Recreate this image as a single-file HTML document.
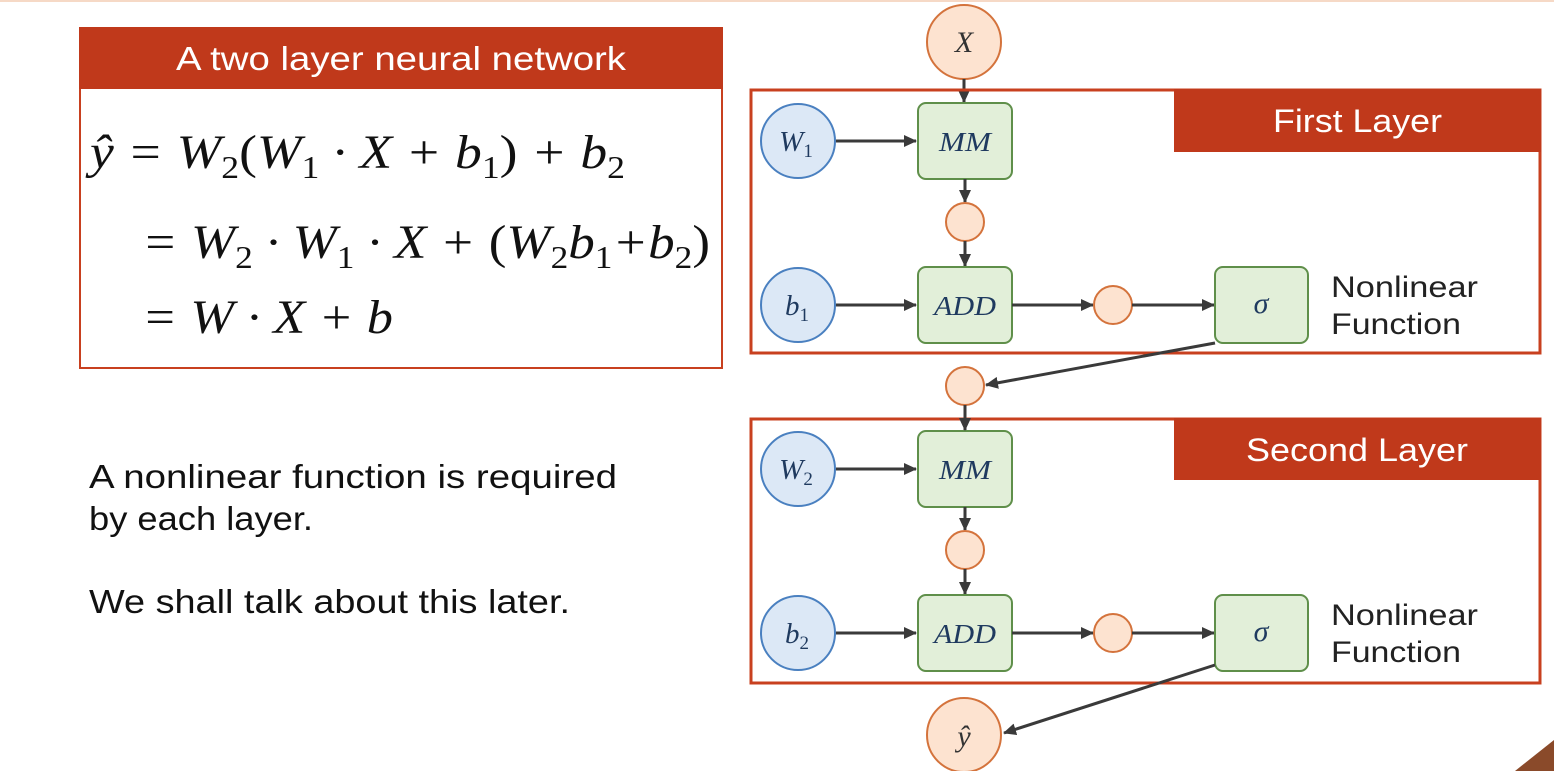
<!DOCTYPE html>
<html><head><meta charset="utf-8"><style>
html,body{margin:0;padding:0;background:#fff;width:1554px;height:771px;overflow:hidden}
svg{display:block}
.s{font-family:"Liberation Sans",sans-serif}
.m{font-family:"Liberation Serif",serif;font-style:italic}
</style></head><body>
<svg width="1554" height="771" viewBox="0 0 1554 771" xmlns="http://www.w3.org/2000/svg">
<defs>
<marker id="a" markerWidth="13" markerHeight="12" refX="12" refY="6" orient="auto" markerUnits="userSpaceOnUse"><path d="M0,0 L13,6 L0,12 z" fill="#3a3a3a"/></marker>
</defs>
<rect x="0" y="0" width="1554" height="2" fill="#f6d9c6"/>
<!-- left box -->
<rect x="80" y="28" width="642" height="340" fill="#fff" stroke="#c8401f" stroke-width="2"/>
<rect x="79" y="27" width="644" height="62" fill="#c0391b"/>
<text x="176" y="70" class="s" font-size="33" fill="#fff" textLength="450" lengthAdjust="spacingAndGlyphs">A two layer neural network</text>
<g class="m" font-size="48" fill="#111">
<text x="90" y="168" textLength="535" lengthAdjust="spacingAndGlyphs">ŷ = W<tspan font-size="32" font-style="normal" dy="10">2</tspan><tspan dy="-10" font-style="normal">(</tspan><tspan>W</tspan><tspan font-size="32" font-style="normal" dy="10">1</tspan><tspan dy="-10"> · X + b</tspan><tspan font-size="32" font-style="normal" dy="10">1</tspan><tspan dy="-10" font-style="normal">)</tspan><tspan> + b</tspan><tspan font-size="32" font-style="normal" dy="10">2</tspan></text>
<text x="142" y="258" textLength="568" lengthAdjust="spacingAndGlyphs">= W<tspan font-size="32" font-style="normal" dy="10">2</tspan><tspan dy="-10"> · W</tspan><tspan font-size="32" font-style="normal" dy="10">1</tspan><tspan dy="-10"> · X + </tspan><tspan font-style="normal">(</tspan><tspan>W</tspan><tspan font-size="32" font-style="normal" dy="10">2</tspan><tspan dy="-10">b</tspan><tspan font-size="32" font-style="normal" dy="10">1</tspan><tspan dy="-10">+b</tspan><tspan font-size="32" font-style="normal" dy="10">2</tspan><tspan dy="-10" font-style="normal">)</tspan></text>
<text x="142" y="333" textLength="251" lengthAdjust="spacingAndGlyphs">= W · X + b</text>
</g>
<g class="s" font-size="33" fill="#111">
<text x="89" y="488" textLength="528" lengthAdjust="spacingAndGlyphs">A nonlinear function is required</text>
<text x="89" y="530" textLength="224" lengthAdjust="spacingAndGlyphs">by each layer.</text>
<text x="89" y="613" textLength="481" lengthAdjust="spacingAndGlyphs">We shall talk about this later.</text>
</g>

<!-- X -->
<circle cx="964" cy="42" r="37" fill="#fde3d0" stroke="#d4733c" stroke-width="2"/>
<text x="964" y="52" text-anchor="middle" class="m" font-size="30" fill="#333">X</text>
<line x1="964" y1="79" x2="964" y2="102" stroke="#3a3a3a" stroke-width="3" marker-end="url(#a)"/>

<rect x="751" y="90" width="789" height="263" fill="none" stroke="#c8401f" stroke-width="3"/>
<rect x="1174" y="89" width="367" height="63" fill="#c0391b"/>
<text x="1273" y="132" class="s" font-size="32" fill="#fff" textLength="169" lengthAdjust="spacingAndGlyphs">First Layer</text>
<rect x="751" y="419" width="789" height="264" fill="none" stroke="#c8401f" stroke-width="3"/>
<rect x="1174" y="418" width="367" height="62" fill="#c0391b"/>
<text x="1246" y="461" class="s" font-size="32" fill="#fff" textLength="222" lengthAdjust="spacingAndGlyphs">Second Layer</text>

<g id="layer">
<circle cx="798" cy="141" r="37" fill="#dce8f6" stroke="#4a80c0" stroke-width="2"/>
<rect x="918" y="103" width="94" height="76" rx="8" fill="#e2efd9" stroke="#5f8f4a" stroke-width="2"/>
<text x="965" y="151" text-anchor="middle" class="m" font-size="27" fill="#1f3a5f" textLength="52" lengthAdjust="spacingAndGlyphs">MM</text>
<line x1="836" y1="141" x2="916" y2="141" stroke="#3a3a3a" stroke-width="3" marker-end="url(#a)"/>
<line x1="965" y1="179" x2="965" y2="202" stroke="#3a3a3a" stroke-width="3" marker-end="url(#a)"/>
<circle cx="965" cy="222" r="19" fill="#fde3d0" stroke="#d4733c" stroke-width="2"/>
<line x1="965" y1="241" x2="965" y2="266" stroke="#3a3a3a" stroke-width="3" marker-end="url(#a)"/>
<circle cx="798" cy="305" r="37" fill="#dce8f6" stroke="#4a80c0" stroke-width="2"/>
<rect x="918" y="267" width="94" height="76" rx="8" fill="#e2efd9" stroke="#5f8f4a" stroke-width="2"/>
<text x="965" y="315" text-anchor="middle" class="m" font-size="27" fill="#1f3a5f" textLength="62" lengthAdjust="spacingAndGlyphs">ADD</text>
<line x1="836" y1="305" x2="916" y2="305" stroke="#3a3a3a" stroke-width="3" marker-end="url(#a)"/>
<line x1="1012" y1="305" x2="1093" y2="305" stroke="#3a3a3a" stroke-width="3" marker-end="url(#a)"/>
<circle cx="1113" cy="305" r="19" fill="#fde3d0" stroke="#d4733c" stroke-width="2"/>
<line x1="1132" y1="305" x2="1214" y2="305" stroke="#3a3a3a" stroke-width="3" marker-end="url(#a)"/>
<rect x="1215" y="267" width="93" height="76" rx="8" fill="#e2efd9" stroke="#5f8f4a" stroke-width="2"/>
<text x="1261" y="313" text-anchor="middle" class="m" font-size="30" fill="#1f3a5f">σ</text>
<text x="1331" y="297" class="s" font-size="30" fill="#222" textLength="147" lengthAdjust="spacingAndGlyphs">Nonlinear</text>
<text x="1331" y="334" class="s" font-size="30" fill="#222" textLength="130" lengthAdjust="spacingAndGlyphs">Function</text>
</g>
<text x="796" y="151" class="m" font-size="29" fill="#1f3a5f" text-anchor="middle">W<tspan font-size="19" font-style="normal" dy="6">1</tspan></text>
<text x="797" y="315" class="m" font-size="29" fill="#1f3a5f" text-anchor="middle">b<tspan font-size="19" font-style="normal" dy="6">1</tspan></text>

<g transform="translate(0,328)">
<use href="#layer"/>
</g>
<text x="796" y="479" class="m" font-size="29" fill="#1f3a5f" text-anchor="middle">W<tspan font-size="19" font-style="normal" dy="6">2</tspan></text>
<text x="797" y="643" class="m" font-size="29" fill="#1f3a5f" text-anchor="middle">b<tspan font-size="19" font-style="normal" dy="6">2</tspan></text>

<!-- between layers -->
<line x1="1215" y1="343" x2="986" y2="385" stroke="#3a3a3a" stroke-width="3" marker-end="url(#a)"/>
<circle cx="965" cy="386" r="19" fill="#fde3d0" stroke="#d4733c" stroke-width="2"/>
<line x1="965" y1="405" x2="965" y2="430" stroke="#3a3a3a" stroke-width="3" marker-end="url(#a)"/>

<line x1="1215" y1="665" x2="1004" y2="733" stroke="#3a3a3a" stroke-width="3" marker-end="url(#a)"/>
<circle cx="964" cy="735" r="37" fill="#fde3d0" stroke="#d4733c" stroke-width="2"/>
<text x="964" y="746" text-anchor="middle" class="m" font-size="30" fill="#333">ŷ</text>

<path d="M1515,771 L1554,740 L1554,771 z" fill="#8a4a2a"/>
</svg>
</body></html>
